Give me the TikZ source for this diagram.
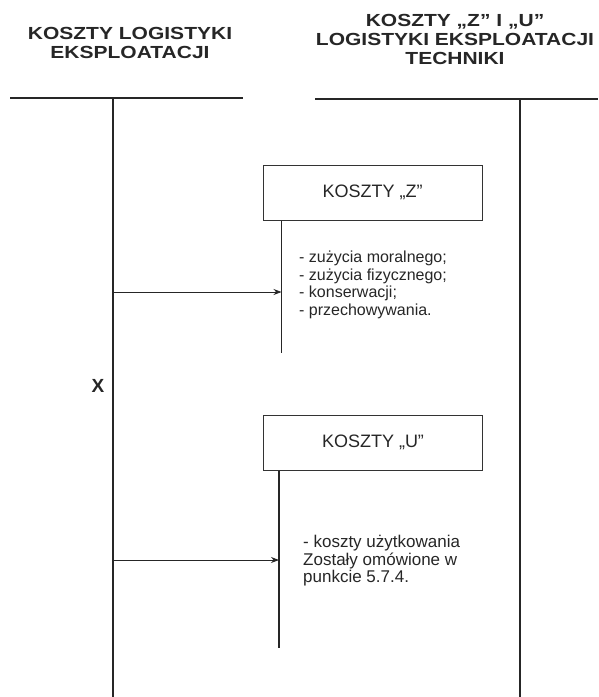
\documentclass[tikz,border=0pt]{standalone}
\usepackage{fontspec}
\setmainfont{Liberation Sans}
\newfontfamily\hdrfont[FakeStretch=1.2]{Liberation Sans}
\usetikzlibrary{arrows.meta}

\begin{document}
\begin{tikzpicture}[
    x=1pt, y=-1pt,
    header/.style={font=\hdrfont\bfseries\fontsize{17.5}{19}\selectfont, align=center, text=black!85},
    mainline/.style={line width=1.6pt, draw=black!85},
    subline/.style={line width=1.2pt, draw=black!85},
    costbox/.style={draw=black!80, line width=1pt, minimum width=219pt, minimum height=55pt,
      font=\fontsize{18}{20}\selectfont, text=black!85},
    itemlist/.style={align=left, inner sep=0pt, anchor=north west, text=black!85},
    feed/.style={line width=0.8pt, draw=black!85, -{Stealth[length=8pt, width=6pt]}},
  ]
  \useasboundingbox (0,0) rectangle (598,697);

  % -------------------------------------------------------
  %  Column headers
  % -------------------------------------------------------
  \node[header] (hdrL) at (130, 43) {KOSZTY LOGISTYKI\\EKSPLOATACJI};
  \node[header] (hdrR) at (455, 39) {KOSZTY „Z” I „U”\\LOGISTYKI EKSPLOATACJI\\TECHNIKI};

  % Left column rule and trunk
  \coordinate (lHL) at (10, 98);
  \coordinate (lHR) at (243, 98);
  \coordinate (lTop) at (113, 98);
  \coordinate (lBot) at (113, 697);
  \draw[mainline] (lHL) -- (lHR);
  \draw[mainline] (lTop) -- (lBot);
  \node[font=\bfseries\fontsize{19}{19}\selectfont, text=black!85] (labX) at (98, 386) {X};

  % Right column rule and trunk
  \coordinate (rHL) at (315, 99);
  \coordinate (rHR) at (598, 99);
  \coordinate (rTop) at (520, 99);
  \coordinate (rBot) at (520, 697);
  \draw[mainline] (rHL) -- (rHR);
  \draw[mainline] (rTop) -- (rBot);

  % -------------------------------------------------------
  %  Costs "Z"
  % -------------------------------------------------------
  \node[costbox] (boxZ) at (372.5, 192.5) {KOSZTY „Z”};
  \coordinate (zTop) at ([xshift=19pt]boxZ.south west);
  \draw[subline] (zTop) -- ++(0, 132) coordinate (zEnd);
  \draw[feed] (lTop |- 0, 292) -- (zTop |- 0, 292);
  \node[itemlist, font=\fontsize{16}{17.5}\selectfont] (listZ) at (299, 251)
    {- zużycia moralnego;\\- zużycia fizycznego;\\- konserwacji;\\- przechowywania.};

  % -------------------------------------------------------
  %  Costs "U"
  % -------------------------------------------------------
  \node[costbox] (boxU) at (373, 442.5) {KOSZTY „U”};
  \coordinate (uTop) at ([xshift=16pt]boxU.south west);
  \draw[subline] (uTop) -- ++(0, 177) coordinate (uEnd);
  \draw[feed] (lTop |- 0, 560) -- (uTop |- 0, 560);
  \node[itemlist, font=\fontsize{17}{17.5}\selectfont] (listU) at (303, 535)
    {- koszty użytkowania\\Zostały omówione w\\punkcie 5.7.4.};

\end{tikzpicture}
\end{document}
